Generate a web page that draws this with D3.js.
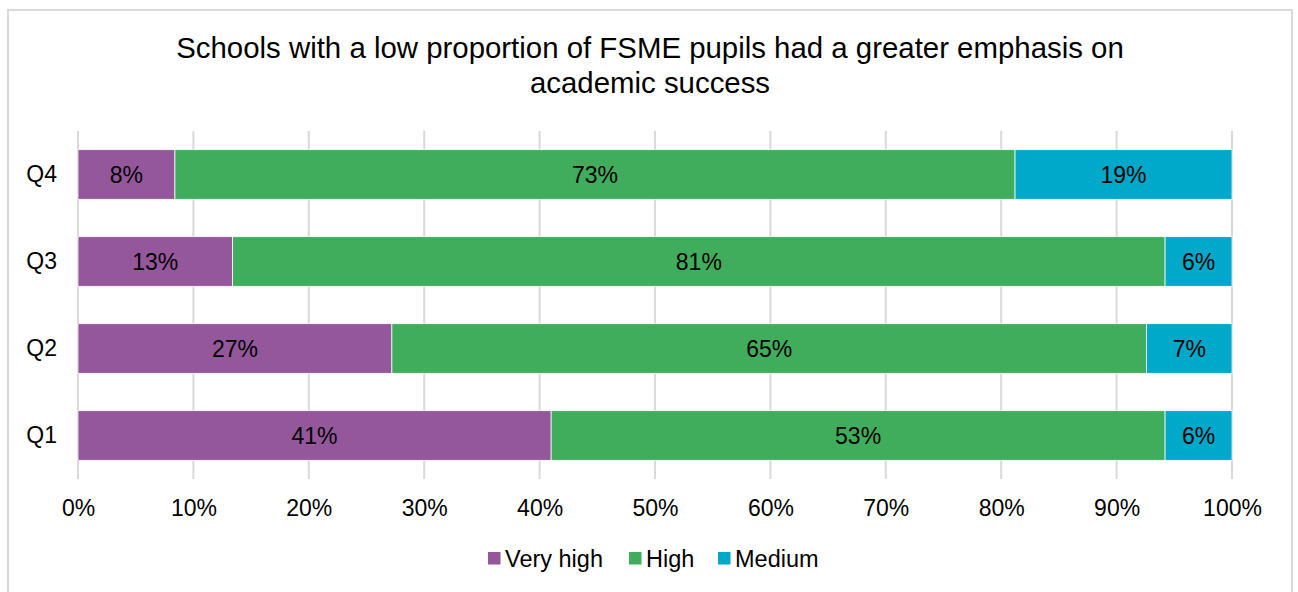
<!DOCTYPE html>
<html>
<head>
<meta charset="utf-8">
<script src="https://cdn.jsdelivr.net/npm/d3@7/dist/d3.min.js"></script>
<style>
  html, body { margin: 0; padding: 0; background: #ffffff; }
  svg { display: block; font-family: "Liberation Sans", Arial, sans-serif; }
</style>
</head>
<body>
<svg id="chart" width="1298" height="592"></svg>
<script>
// Quartile groups, top to bottom as drawn
const categories = ["Q4", "Q3", "Q2", "Q1"];
const seriesNames = ["Very high", "High", "Medium"];
const seriesColors = ["#94579B", "#3FAD5C", "#00A9CA"];
// Share of schools in each emphasis level (fractions of 1)
const veryHigh = [0.084, 0.134, 0.272, 0.410];
const high     = [0.728, 0.808, 0.654, 0.532];
const medium   = [0.188, 0.058, 0.074, 0.058];
const tickValues = [0, 0.1, 0.2, 0.3, 0.4, 0.5, 0.6, 0.7, 0.8, 0.9, 1.0];
const titleLines = ["Schools with a low proportion of FSME pupils had a greater emphasis on", "academic success"];

const svg = d3.select("#chart");
const plot = { left: 78, right: 1232, top: 131, bottom: 479 };

// Outer frame
svg.append("rect")
  .attr("x", 8).attr("y", 10)
  .attr("width", 1284).attr("height", 600)
  .attr("fill", "#ffffff")
  .attr("stroke", "#d9d9d9").attr("stroke-width", 2);

// Title
svg.append("g").selectAll("text")
  .data(titleLines).join("text")
  .attr("x", 650)
  .attr("y", (d, i) => 58 + i * 35)
  .attr("text-anchor", "middle")
  .attr("font-size", 29.4)
  .attr("fill", "#000000")
  .text(d => d);

const x = d3.scaleLinear().domain([0, 1]).range([plot.left, plot.right]);
const y = d3.scaleBand().domain(categories).range([plot.top, plot.bottom])
  .paddingInner(0.43).paddingOuter(0.215);

// Vertical gridlines
svg.append("g").selectAll("line")
  .data(tickValues).join("line")
  .attr("x1", d => x(d)).attr("x2", d => x(d))
  .attr("y1", plot.top).attr("y2", plot.bottom)
  .attr("stroke", "#d9d9d9").attr("stroke-width", 2);

// X axis tick labels
const xAxis = d3.axisBottom(x).tickValues(tickValues).tickFormat(d3.format(".0%")).tickSize(0).tickPadding(0);
const gx = svg.append("g").attr("transform", `translate(0,${plot.bottom + 37})`).call(xAxis);
gx.select(".domain").remove();
gx.selectAll("text").attr("font-size", 23).attr("fill", "#000000")
  .attr("font-family", "Liberation Sans, Arial, sans-serif").attr("dy", 0);

// Y axis category labels
const yAxis = d3.axisLeft(y).tickSize(0).tickPadding(0);
const gy = svg.append("g").attr("transform", `translate(57,0)`).call(yAxis);
gy.select(".domain").remove();
gy.selectAll("text").attr("font-size", 23).attr("fill", "#000000")
  .attr("font-family", "Liberation Sans, Arial, sans-serif");

// Stacked bars
const rows = categories.map((c, i) => ({ cat: c, "Very high": veryHigh[i], "High": high[i], "Medium": medium[i] }));
const stacked = d3.stack().keys(seriesNames)(rows);
const color = d3.scaleOrdinal().domain(seriesNames).range(seriesColors);
const pct = d3.format(".0%");

const layers = svg.append("g").selectAll("g")
  .data(stacked).join("g")
  .attr("fill", d => color(d.key));

layers.selectAll("rect")
  .data(d => d).join("rect")
  .attr("x", d => x(d[0]))
  .attr("y", d => y(d.data.cat))
  .attr("width", d => x(d[1]) - x(d[0]))
  .attr("height", y.bandwidth())
  .attr("stroke", "#ffffff").attr("stroke-width", 0.75);

layers.selectAll("text")
  .data(d => d.map(p => ({ p, key: d.key }))).join("text")
  .attr("x", d => (x(d.p[0]) + x(d.p[1])) / 2)
  .attr("y", d => y(d.p.data.cat) + y.bandwidth() / 2)
  .attr("dy", "0.35em")
  .attr("text-anchor", "middle")
  .attr("font-size", 23)
  .attr("fill", "#000000")
  .text(d => pct(d.p.data[d.key]));

// Legend
const legendItems = [
  { name: seriesNames[0], x: 488 },
  { name: seriesNames[1], x: 629 },
  { name: seriesNames[2], x: 718 }
];
const lg = svg.append("g").selectAll("g").data(legendItems).join("g")
  .attr("transform", d => `translate(${d.x},552)`);
lg.append("rect").attr("width", 12.5).attr("height", 12.5)
  .attr("fill", d => color(d.name));
lg.append("text").attr("x", 17).attr("y", 14.5)
  .attr("font-size", 23.5).attr("fill", "#000000")
  .text(d => d.name);
</script>
</body>
</html>
